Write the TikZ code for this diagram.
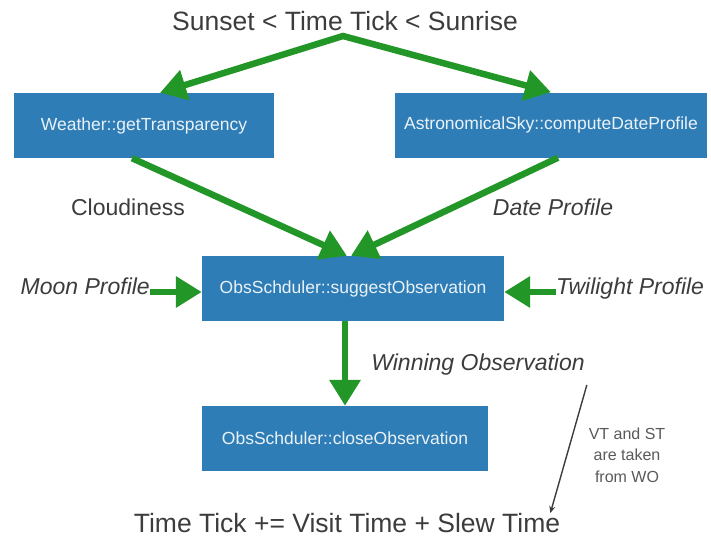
\documentclass[tikz,border=0pt]{standalone}
\usepackage{fontspec}
\setmainfont{Liberation Sans}
\usetikzlibrary{arrows.meta}
\definecolor{boxblue}{RGB}{47,125,182}
\definecolor{flowgreen}{RGB}{35,150,40}
\definecolor{inkgray}{RGB}{60,60,60}

\begin{document}
\begin{tikzpicture}[x=1pt,y=-1pt,
  >={Triangle[length=26pt,width=30pt]},
  box/.style={fill=boxblue,text=white!90!boxblue,minimum height=65pt,inner sep=0pt,font=\fontsize{17.5}{20}\selectfont},
  flow/.style={flowgreen,line width=6.5pt,->},
  lbl/.style={text=inkgray,inner sep=0pt,font=\fontsize{23}{26}\selectfont},
  ilbl/.style={lbl,font=\fontsize{23}{26}\selectfont\itshape},
  big/.style={text=inkgray,inner sep=0pt,font=\fontsize{26.5}{30}\selectfont},
  note/.style={text=inkgray!85,inner sep=0pt,align=center,font=\fontsize{16}{21.7}\selectfont}]
  \useasboundingbox (0,0) rectangle (711,538);
  \node[big] (cond) at (345,21) {Sunset < Time Tick < Sunrise};
  \coordinate (apex) at (343,36);
  % boxes
  \node[box,minimum width=260pt] (weather) at (144,125.5) {Weather::getTransparency};
  \node[box,minimum width=312pt] (sky) at (551,125) {AstronomicalSky::computeDateProfile};
  \node[box,minimum width=302pt] (suggest) at (353,288.5) {ObsSchduler::suggestObservation};
  \node[box,minimum width=286pt] (close) at (345,438.5) {ObsSchduler::closeObservation};
  % inputs
  \node[lbl] (cloud) at (128,207) {Cloudiness};
  \node[ilbl] (date) at (553,207) {Date Profile};
  \node[ilbl,anchor=mid east] (moon) at (150,292) {Moon Profile};
  \node[ilbl,anchor=mid west] (twilight) at (556,292) {Twilight Profile};
  \node[ilbl] (win) at (478,365) {Winning Observation};
  \node[note] (vtst) at (627,455) {VT and ST\\are taken\\from WO};
  \node[big] (tick) at (347,523) {Time Tick += Visit Time + Slew Time};
  % flow
  \draw[flow,<->] ([xshift=16pt]weather.north) -- (apex) -- (sky.north);
  \draw[flow] ([xshift=-12pt]weather.south) -- ([xshift=-6pt]suggest.north);
  \draw[flow] ([xshift=7pt]sky.south) -- ([xshift=-2pt]suggest.north);
  \draw[flow] (moon.mid east) -- (moon.mid east -| suggest.west);
  \draw[flow] (twilight.mid west) -- (twilight.mid west -| suggest.east);
  \draw[flow] (close.north |- suggest.south) -- (close.north);
  \draw[inkgray,line width=1.4pt,-{Stealth[length=7pt,width=6pt]}] ([shift={(2,9)}]win.south east) -- ([xshift=-10pt]tick.north east);
\end{tikzpicture}
\end{document}
